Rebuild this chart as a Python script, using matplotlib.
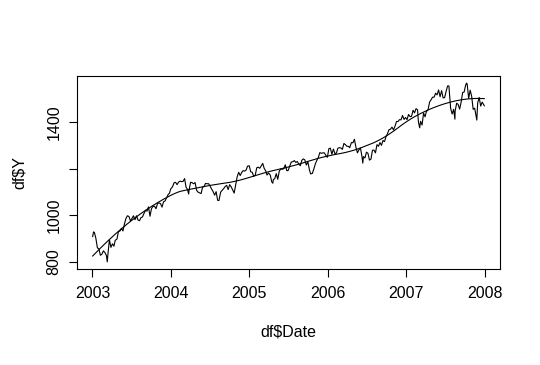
import numpy as np
import pandas as pd
import matplotlib
matplotlib.use("Agg")
import matplotlib.pyplot as plt
import matplotlib.dates as mdates

# weekly closes (plus a few daily extremes)
dates = [
    "2003-01-02", "2003-01-06", "2003-01-10", "2003-01-17", "2003-01-24", "2003-01-31", "2003-02-07", "2003-02-14",
    "2003-02-21", "2003-02-28", "2003-03-07", "2003-03-11", "2003-03-14", "2003-03-21", "2003-03-28", "2003-04-04",
    "2003-04-11", "2003-04-17", "2003-04-25", "2003-05-02", "2003-05-09", "2003-05-16", "2003-05-23", "2003-05-30",
    "2003-06-06", "2003-06-13", "2003-06-20", "2003-06-27", "2003-07-03", "2003-07-11", "2003-07-18", "2003-07-25",
    "2003-08-01", "2003-08-08", "2003-08-15", "2003-08-22", "2003-08-29", "2003-09-05", "2003-09-12", "2003-09-19",
    "2003-09-26", "2003-10-03", "2003-10-10", "2003-10-17", "2003-10-24", "2003-10-31", "2003-11-07", "2003-11-14",
    "2003-11-21", "2003-11-28", "2003-12-05", "2003-12-12", "2003-12-19", "2003-12-26", "2003-12-31",
    "2004-01-09", "2004-01-16", "2004-01-23", "2004-01-30", "2004-02-06", "2004-02-13", "2004-02-20", "2004-02-27",
    "2004-03-05", "2004-03-12", "2004-03-19", "2004-03-24", "2004-03-26", "2004-04-02", "2004-04-08", "2004-04-16",
    "2004-04-23", "2004-04-30", "2004-05-07", "2004-05-14", "2004-05-21", "2004-05-28", "2004-06-04", "2004-06-10",
    "2004-06-18", "2004-06-25", "2004-07-02", "2004-07-09", "2004-07-16", "2004-07-23", "2004-07-30", "2004-08-06",
    "2004-08-12", "2004-08-20", "2004-08-27", "2004-09-03", "2004-09-10", "2004-09-17", "2004-09-24", "2004-10-01",
    "2004-10-08", "2004-10-15", "2004-10-22", "2004-10-29", "2004-11-05", "2004-11-12", "2004-11-19", "2004-11-26",
    "2004-12-03", "2004-12-10", "2004-12-17", "2004-12-23", "2004-12-31",
    "2005-01-07", "2005-01-14", "2005-01-21", "2005-01-28", "2005-02-04", "2005-02-11", "2005-02-18", "2005-02-25",
    "2005-03-04", "2005-03-11", "2005-03-18", "2005-03-24", "2005-03-31", "2005-04-08", "2005-04-15", "2005-04-20",
    "2005-04-22", "2005-04-29", "2005-05-06", "2005-05-13", "2005-05-20", "2005-05-27", "2005-06-03", "2005-06-10",
    "2005-06-17", "2005-06-24", "2005-06-30", "2005-07-08", "2005-07-15", "2005-07-22", "2005-07-29", "2005-08-05",
    "2005-08-12", "2005-08-19", "2005-08-26", "2005-09-02", "2005-09-09", "2005-09-16", "2005-09-23", "2005-09-30",
    "2005-10-07", "2005-10-13", "2005-10-21", "2005-10-28", "2005-11-04", "2005-11-11", "2005-11-18", "2005-11-25",
    "2005-12-02", "2005-12-09", "2005-12-16", "2005-12-23", "2005-12-30",
    "2006-01-06", "2006-01-13", "2006-01-20", "2006-01-27", "2006-02-03", "2006-02-10", "2006-02-17", "2006-02-24",
    "2006-03-03", "2006-03-10", "2006-03-17", "2006-03-24", "2006-03-31", "2006-04-07", "2006-04-13", "2006-04-21",
    "2006-04-28", "2006-05-05", "2006-05-12", "2006-05-19", "2006-05-26", "2006-06-02", "2006-06-09", "2006-06-13",
    "2006-06-16", "2006-06-23", "2006-06-30", "2006-07-07", "2006-07-14", "2006-07-21", "2006-07-28", "2006-08-04",
    "2006-08-11", "2006-08-18", "2006-08-25", "2006-09-01", "2006-09-08", "2006-09-15", "2006-09-22", "2006-09-29",
    "2006-10-06", "2006-10-13", "2006-10-20", "2006-10-27", "2006-11-03", "2006-11-10", "2006-11-17", "2006-11-24",
    "2006-12-01", "2006-12-08", "2006-12-15", "2006-12-22", "2006-12-29",
    "2007-01-05", "2007-01-12", "2007-01-19", "2007-01-26", "2007-02-02", "2007-02-09", "2007-02-16", "2007-02-23",
    "2007-02-27", "2007-03-02", "2007-03-05", "2007-03-09", "2007-03-16", "2007-03-23", "2007-03-30", "2007-04-05",
    "2007-04-13", "2007-04-20", "2007-04-27", "2007-05-04", "2007-05-11", "2007-05-18", "2007-05-25", "2007-06-01",
    "2007-06-08", "2007-06-15", "2007-06-22", "2007-06-29", "2007-07-06", "2007-07-13", "2007-07-19", "2007-07-27",
    "2007-08-03", "2007-08-10", "2007-08-16", "2007-08-17", "2007-08-24", "2007-08-31", "2007-09-07", "2007-09-14",
    "2007-09-21", "2007-09-28", "2007-10-05", "2007-10-09", "2007-10-12", "2007-10-19", "2007-10-26", "2007-11-02",
    "2007-11-09", "2007-11-16", "2007-11-26", "2007-11-30", "2007-12-07", "2007-12-14", "2007-12-21", "2007-12-31",
]
close = [
    909, 929, 927, 901, 861, 856, 829, 834, 848, 841, 828, 801, 833, 895, 863, 878,
    868, 893, 898, 930, 933, 944, 933, 963, 987, 998, 995, 976, 985, 998, 981, 998,
    980, 977, 990, 993, 1008, 1021, 1018, 1036, 996, 1029, 1038, 1039, 1028, 1050, 1053, 1050,
    1035, 1058, 1061, 1074, 1088, 1095, 1112,
    1122, 1139, 1141, 1131, 1142, 1146, 1144, 1145, 1157, 1120, 1110, 1091, 1108, 1141, 1140, 1135,
    1140, 1107, 1099, 1096, 1093, 1121, 1123, 1136, 1135, 1135, 1125, 1112, 1101, 1086, 1101, 1064,
    1063, 1099, 1107, 1114, 1123, 1128, 1110, 1131, 1122, 1108, 1095, 1130, 1165, 1184, 1170, 1183,
    1191, 1189, 1194, 1210, 1212,
    1186, 1184, 1167, 1171, 1203, 1206, 1201, 1211, 1222, 1200, 1190, 1172, 1181, 1172, 1143, 1137,
    1152, 1157, 1178, 1154, 1189, 1198, 1197, 1199, 1216, 1191, 1191, 1211, 1228, 1229, 1234, 1226,
    1230, 1219, 1212, 1235, 1241, 1237, 1215, 1229, 1196, 1177, 1179, 1198, 1220, 1235, 1248, 1268,
    1265, 1267, 1267, 1256, 1248,
    1285, 1287, 1261, 1283, 1264, 1266, 1287, 1289, 1288, 1282, 1307, 1302, 1295, 1295, 1289, 1311,
    1310, 1325, 1291, 1267, 1280, 1288, 1252, 1223, 1251, 1245, 1270, 1265, 1236, 1240, 1278, 1279,
    1267, 1302, 1295, 1311, 1299, 1320, 1315, 1336, 1349, 1366, 1368, 1377, 1365, 1381, 1401, 1401,
    1409, 1408, 1427, 1410, 1418,
    1409, 1431, 1422, 1423, 1449, 1438, 1456, 1451, 1399, 1387, 1374, 1402, 1386, 1437, 1421, 1443,
    1452, 1484, 1494, 1505, 1505, 1522, 1515, 1536, 1507, 1533, 1502, 1503, 1530, 1553, 1553, 1458,
    1433, 1453, 1411, 1445, 1479, 1474, 1454, 1484, 1525, 1527, 1557, 1565, 1562, 1500, 1535, 1509,
    1453, 1458, 1407, 1481, 1504, 1467, 1484, 1468,
]
year_ticks = ["2003", "2004", "2005", "2006", "2007", "2008"]
y_ticks = [800, 1000, 1200, 1400]
y_labels = ["800", "1000", "", "1400"]


def loess(x, y, span=0.75, degree=2):
    # local polynomial fit with tricube weights (like R's loess)
    x = np.asarray(x, float)
    y = np.asarray(y, float)
    xs = (x - x.min()) / (x.max() - x.min())
    q = int(np.floor(len(x) * span))
    fit = []
    for x0 in xs:
        d = np.abs(xs - x0)
        h = np.sort(d)[q - 1]
        w = np.clip(1 - (d / h) ** 3, 0, None) ** 3
        A = np.vander(xs - x0, degree + 1)
        sw = np.sqrt(w)
        coef = np.linalg.lstsq(A * sw[:, None], y * sw, rcond=None)[0]
        fit.append(coef[-1])
    return np.array(fit)


df = pd.DataFrame({"Date": pd.to_datetime(dates), "Y": close})
xnum = mdates.date2num(df["Date"])
smooth = loess(xnum, df["Y"], span=0.45)

plt.rcParams["font.family"] = ["Liberation Sans", "DejaVu Sans"]
fig = plt.figure(figsize=(5.4, 3.65), dpi=100)
ax = fig.add_axes([77 / 540, 1 - 269 / 365, 423 / 540, 193 / 365])

ax.plot(df["Date"], df["Y"], color="black", lw=0.8)
ax.plot(df["Date"], smooth, color="black", lw=0.8)

xr = xnum.max() - xnum.min()
ax.set_xlim(xnum.min() - 0.04 * xr, xnum.max() + 0.04 * xr)
yr = max(close) - min(close)
ax.set_ylim(min(close) - 0.04 * yr, max(close) + 0.04 * yr)

ax.set_xticks(mdates.date2num(pd.to_datetime(year_ticks)))
ax.set_xticklabels(year_ticks)
ax.set_yticks(y_ticks)
ax.set_yticklabels(y_labels, rotation=90, va="center")

ax.tick_params(direction="out", length=6, width=0.8, labelsize=11.5, colors="black", pad=6)
ax.tick_params(axis="y", pad=5)
for s in ax.spines.values():
    s.set_linewidth(0.8)

ax.set_xlabel("df$Date", fontsize=11.5, labelpad=17)
ax.set_ylabel("df$Y", fontsize=11.5, labelpad=14)

fig.savefig("out.png", dpi=100)
